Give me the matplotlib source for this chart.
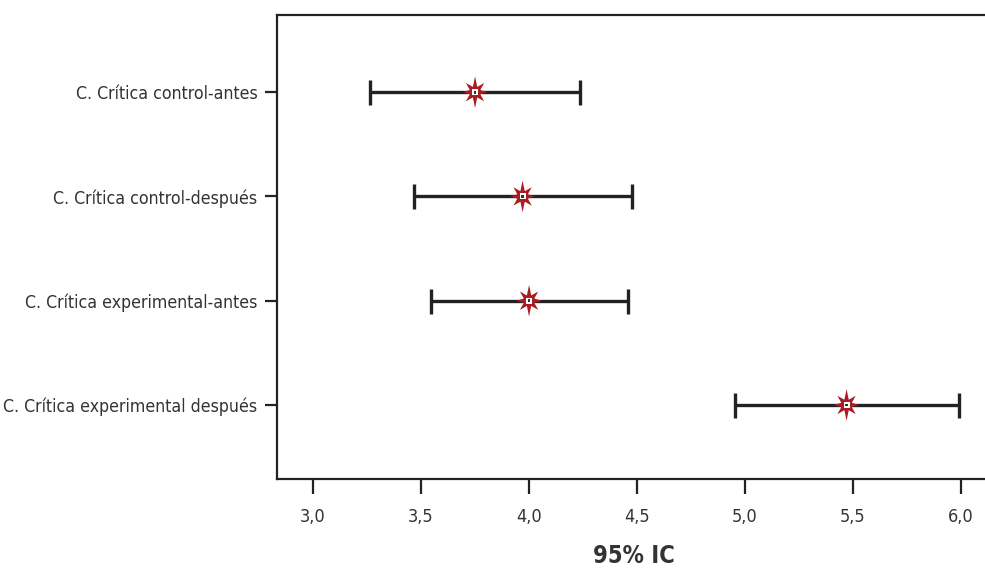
import matplotlib
matplotlib.use("Agg")
import matplotlib.pyplot as plt
import numpy as np
from matplotlib.path import Path
from matplotlib import font_manager

categories = ["C. Crítica control-antes", "C. Crítica control-después",
              "C. Crítica experimental-antes", "C. Crítica experimental después"]
means = [3.75, 3.97, 4.00, 5.47]
lower = [3.265, 3.465, 3.545, 4.955]
upper = [4.235, 4.475, 4.458, 5.99]
xticks = [3.0, 3.5, 4.0, 4.5, 5.0, 5.5, 6.0]
xticklabels = ["3,0", "3,5", "4,0", "4,5", "5,0", "5,5", "6,0"]

# pick a narrow font if any
files = [f.fname for f in font_manager.fontManager.ttflist]
reg, bold = None, None
for key in ["LiberationSansNarrow-Regular", "DejaVuSansCondensed.ttf"]:
    m = [f for f in files if key in f]
    if m:
        reg = m[0]
        break
for key in ["LiberationSansNarrow-Bold.", "DejaVuSansCondensed-Bold.ttf"]:
    m = [f for f in files if key in f]
    if m:
        bold = m[0]
        break
fp = font_manager.FontProperties(fname=reg) if reg else font_manager.FontProperties(family="Roboto")
fpb = font_manager.FontProperties(fname=bold) if bold else font_manager.FontProperties(family="Roboto", weight="bold")

# 8-pointed star marker
verts = []
n = 8
radii = [1.0, 0.82, 0.78, 0.82, 1.0, 0.82, 0.78, 0.82]
for i in range(2 * n):
    ang = np.pi / 2 + i * np.pi / n
    r = radii[i // 2] if i % 2 == 0 else 0.36
    verts.append((r * np.cos(ang), r * np.sin(ang)))
verts.append(verts[0])
codes = [Path.MOVETO] + [Path.LINETO] * (len(verts) - 2) + [Path.CLOSEPOLY]
star = Path(verts, codes)

fig = plt.figure(figsize=(9.85, 5.76), dpi=100)
ax = fig.add_axes([277/985, 97/576, 1 - 277/985 + 0.02, (479 - 15)/576])

y = np.arange(1, len(categories) + 1)
means_a = np.array(means)
xerr = [means_a - np.array(lower), np.array(upper) - means_a]
ax.errorbar(means, y, xerr=xerr, fmt='none', ecolor='#222222', elinewidth=2.4,
            capsize=9, capthick=2.4, zorder=2)
ax.scatter(means, y, marker=star, s=520, color='#a81c22', edgecolors='none', zorder=3)
ax.scatter(means, y, marker='s', s=18, color='white', edgecolors='none', zorder=4)
ax.scatter(means, y, marker='s', s=4, color='#333333', edgecolors='none', zorder=5)

ax.set_xlim(2.833, 6.111 + 0.02 * 985 / 216)
ax.set_ylim(4.71, 0.26)
ax.set_yticks(y)
ax.set_yticklabels(categories, fontproperties=fp, fontsize=12.7)
ax.set_xticks(xticks)
ax.set_xticklabels(xticklabels, fontproperties=fp, fontsize=13)

for s in ['left', 'bottom', 'top']:
    ax.spines[s].set_linewidth(1.6)
    ax.spines[s].set_color('#222222')
ax.spines['right'].set_visible(False)

ax.tick_params(axis='x', length=11, width=1.6, color='#222222',
               labelcolor='#333333', pad=10)
ax.tick_params(axis='y', length=9, width=1.6, color='#222222',
               labelcolor='#333333', pad=5)
ax.set_xlabel("95% IC", fontproperties=fpb, fontsize=17, color='#333333', labelpad=13)
ax.xaxis.label.set_x((634 - 277) / (985 * (1 - 277/985 + 0.02)))

fig.savefig("out.png", dpi=100)
